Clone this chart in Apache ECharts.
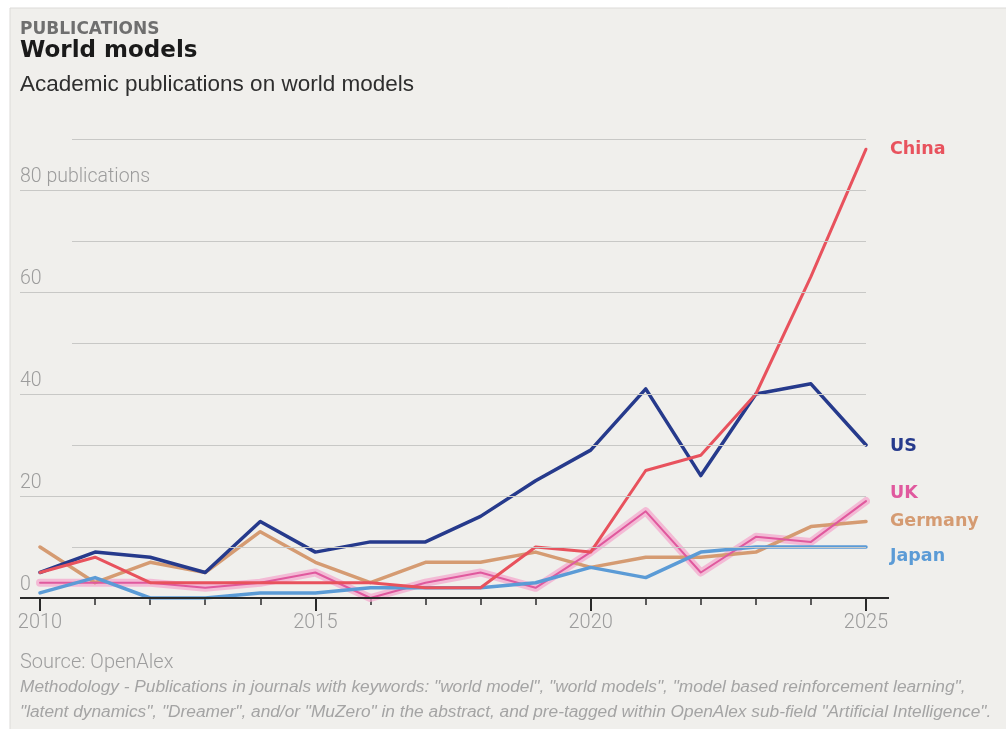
<!DOCTYPE html>
<html>
<head>
<meta charset="utf-8">
<script src="https://cdn.jsdelivr.net/npm/echarts@6/dist/echarts.min.js"></script>
<style>
html,body{margin:0;padding:0;background:#ffffff;}
#c{width:1006px;height:729px;}
</style>
</head>
<body>
<div id="c"></div>
<script>
// ---- data ----
const years   = [2010,2011,2012,2013,2014,2015,2016,2017,2018,2019,2020,2021,2022,2023,2024,2025];
const china   = [5, 8, 3, 3, 3, 3, 3, 2, 2, 10, 9, 25, 28, 40, 63, 88];
const us      = [5, 9, 8, 5, 15, 9, 11, 11, 16, 23, 29, 41, 24, 40, 42, 30];
const uk      = [3, 3, 3, 2, 3, 5, 0, 3, 5, 2, 9, 17, 5, 12, 11, 19];
const germany = [10, 3, 7, 5, 13, 7, 3, 7, 7, 9, 6, 8, 8, 9, 14, 15];
const japan   = [1, 4, 0, 0, 1, 1, 2, 2, 2, 3, 6, 4, 9, 10, 10, 10];
const yLabelTicks = [0, 20, 40, 60, 80];
const yGridValues = [10, 20, 30, 40, 50, 60, 70, 80, 90];
const xLabelTicks = [2010, 2015, 2020, 2025];

const pairs = arr => years.map((y, i) => [y, arr[i]]);

const thinFont = 'Roboto, "Liberation Sans", sans-serif';
const boldFont = '"DejaVu Sans", "Liberation Sans", sans-serif';

function lineSeries(name, arr, color, width, dy, extra) {
  return Object.assign({
    name: name,
    type: 'line',
    data: pairs(arr),
    symbol: 'none',
    silent: true,
    lineStyle: { color: color, width: width, cap: 'round', join: 'round' },
    endLabel: {
      show: true,
      formatter: name,
      color: color,
      fontFamily: boldFont,
      fontWeight: 'bold',
      fontSize: 17.5,
      distance: 24,
      offset: [0, dy]
    }
  }, extra || {});
}

const chart = echarts.init(document.getElementById('c'), null, { renderer: 'canvas' });

const option = {
  animation: false,
  backgroundColor: '#ffffff',
  grid: { left: 40, right: 140, top: 139, bottom: 131 },
  xAxis: {
    type: 'value',
    min: 2010, max: 2025, interval: 5,
    axisLine: { show: false },
    axisTick: { show: true, length: 13, lineStyle: { color: '#2a2a2a', width: 2 } },
    minorTick: { show: true, splitNumber: 5, length: 7, lineStyle: { color: '#2a2a2a', width: 1.5 } },
    splitLine: { show: false },
    axisLabel: {
      color: '#9c9c9c', fontSize: 20, fontFamily: thinFont, fontWeight: 300, margin: 15,
      formatter: v => xLabelTicks.includes(v) ? String(v) : ''
    }
  },
  yAxis: {
    type: 'value',
    min: 0, max: 90, interval: 10,
    axisLine: { show: false },
    axisTick: { show: false },
    splitLine: { show: false },
    axisLabel: {
      align: 'left', margin: 20, verticalAlign: 'bottom', padding: [0, 0, 3, 0],
      color: '#9c9c9c', fontSize: 19.5, fontFamily: thinFont, fontWeight: 300,
      formatter: v => yLabelTicks.includes(v) ? (v === 80 ? v + ' publications' : String(v)) : ''
    }
  },
  graphic: [
    { type: 'rect', z: -10, shape: { x: 10, y: 8, width: 1000, height: 725 },
      style: { fill: '#f0efec', stroke: '#dcdbd8', lineWidth: 1 } },
    { type: 'text', left: 20, top: 21, style: { text: 'PUBLICATIONS', fill: '#6f6f6f',
      font: 'bold 17px "DejaVu Sans", sans-serif' } },
    { type: 'text', left: 20, top: 40, style: { text: 'World models', fill: '#1a1a1a',
      font: 'bold 23px "DejaVu Sans", sans-serif' } },
    { type: 'text', left: 20, top: 73, style: { text: 'Academic publications on world models', fill: '#2e2e2e',
      font: '22.5px "Liberation Sans", sans-serif' } },
    { type: 'text', left: 20, top: 653, style: { text: 'Source: OpenAlex', fill: '#9e9e9e',
      font: '300 20px Roboto, sans-serif' } },
    { type: 'text', left: 20, top: 679, style: { text: 'Methodology - Publications in journals with keywords: "world model", "world models", "model based reinforcement learning",', fill: '#a4a4a4',
      font: 'italic 17.3px "Liberation Sans", sans-serif' } },
    { type: 'text', left: 20, top: 704, style: { text: '"latent dynamics", "Dreamer", and/or "MuZero" in the abstract, and pre-tagged within OpenAlex sub-field "Artificial Intelligence".', fill: '#a4a4a4',
      font: 'italic 17.3px "Liberation Sans", sans-serif' } }
  ],
  series: [
    {
      name: 'grid', type: 'line', data: [], silent: true, symbol: 'none',
      markLine: {
        silent: true, symbol: 'none', label: { show: false },
        animation: false,
        data: yGridValues.map(v => [
          { x: yLabelTicks.includes(v) ? 20 : 72, yAxis: v, lineStyle: { color: '#c8c8c6', width: 1, type: 'solid' } },
          { xAxis: 2025, yAxis: v }
        ]).concat([[
          { x: 20, yAxis: 0, lineStyle: { color: '#2a2a2a', width: 2, type: 'solid' } },
          { x: 889, yAxis: 0 }
        ]])
      }
    },
    { name: 'UK halo', type: 'line', data: pairs(uk), symbol: 'none', silent: true,
      lineStyle: { color: 'rgba(244,168,205,0.75)', width: 8, cap: 'round', join: 'round' } },
    lineSeries('Germany', germany, '#d59b72', 3.5, 0),
    lineSeries('UK', uk, '#e0599e', 2, -8),
    lineSeries('Japan', japan, '#5b9bd6', 3.5, 9),
    lineSeries('US', us, '#263a8c', 3.5, 1),
    lineSeries('China', china, '#e8525d', 3, 0)
  ]
};
chart.setOption(option);
</script>
</body>
</html>
